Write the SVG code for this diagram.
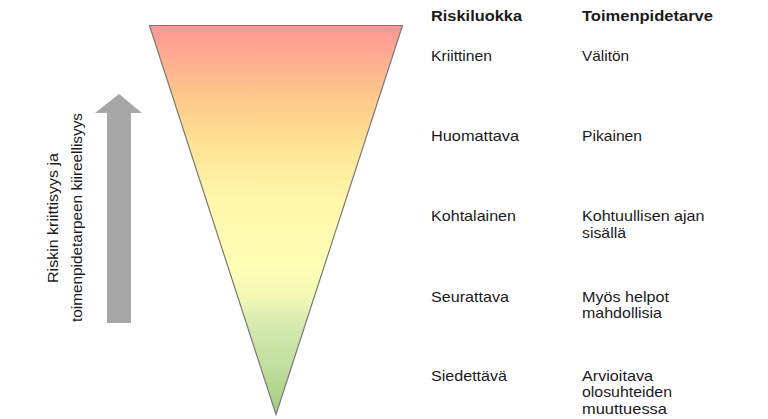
<svg xmlns="http://www.w3.org/2000/svg" width="768" height="419" viewBox="0 0 768 419">
  <defs>
    <linearGradient id="riskGrad" x1="0" y1="0" x2="0" y2="1">
      <stop offset="0" stop-color="#FF9696"/>
      <stop offset="0.19" stop-color="#FFC98A"/>
      <stop offset="0.3" stop-color="#FFE294"/>
      <stop offset="0.45" stop-color="#FFF7AA"/>
      <stop offset="0.62" stop-color="#FFFFB6"/>
      <stop offset="0.7" stop-color="#F2F8B4"/>
      <stop offset="0.76" stop-color="#D8EBB2"/>
      <stop offset="0.88" stop-color="#C0DF9E"/>
      <stop offset="1" stop-color="#9ECC7C"/>
    </linearGradient>
  </defs>
  <style>
    text { font-family: "Liberation Sans", Arial, sans-serif; fill: #1a1a1a; font-size: 14.5px; }
    .hdr { font-weight: bold; }
    .rot { font-size: 15.5px; }
  </style>
  <rect width="768" height="419" fill="#ffffff"/>
  <g id="triangle">
    <polygon points="149.5,25.5 402.5,25.5 276,414.5" fill="url(#riskGrad)" stroke="#7a7a7a" stroke-width="1.2"/>
  </g>
  <g id="arrow">
    <polygon points="119,94 142,113 131,113 131,323 107,323 107,113 95,113" fill="#a6a6a6"/>
  </g>
  <g id="axis-label">
    <text class="rot" transform="translate(58,218) rotate(-90)" text-anchor="middle" textLength="130" lengthAdjust="spacingAndGlyphs">Riskin kriittisyys ja</text>
    <text class="rot" transform="translate(81.5,217.5) rotate(-90)" text-anchor="middle" textLength="209" lengthAdjust="spacingAndGlyphs">toimenpidetarpeen kiireellisyys</text>
  </g>
  <g id="headers">
    <text class="hdr" x="431" y="20.5" textLength="91" lengthAdjust="spacingAndGlyphs">Riskiluokka</text>
    <text class="hdr" x="582" y="20.5" textLength="131" lengthAdjust="spacingAndGlyphs">Toimenpidetarve</text>
  </g>
  <g id="row-kriittinen">
    <text x="431" y="61" textLength="61" lengthAdjust="spacingAndGlyphs">Kriittinen</text>
    <text x="582" y="61" textLength="47" lengthAdjust="spacingAndGlyphs">Välitön</text>
  </g>
  <g id="row-huomattava">
    <text x="431" y="140.5" textLength="88" lengthAdjust="spacingAndGlyphs">Huomattava</text>
    <text x="582" y="140.5" textLength="60" lengthAdjust="spacingAndGlyphs">Pikainen</text>
  </g>
  <g id="row-kohtalainen">
    <text x="431" y="221" textLength="85" lengthAdjust="spacingAndGlyphs">Kohtalainen</text>
    <text x="582" y="221" textLength="122.5" lengthAdjust="spacingAndGlyphs">Kohtuullisen ajan</text>
    <text x="582" y="237.5" textLength="44" lengthAdjust="spacingAndGlyphs">sisällä</text>
  </g>
  <g id="row-seurattava">
    <text x="431" y="301.5" textLength="78" lengthAdjust="spacingAndGlyphs">Seurattava</text>
    <text x="582" y="301.5" textLength="87" lengthAdjust="spacingAndGlyphs">Myös helpot</text>
    <text x="582" y="317.5" textLength="80" lengthAdjust="spacingAndGlyphs">mahdollisia</text>
  </g>
  <g id="row-siedettava">
    <text x="431" y="380.5" textLength="76" lengthAdjust="spacingAndGlyphs">Siedettävä</text>
    <text x="582" y="380.5" textLength="71" lengthAdjust="spacingAndGlyphs">Arvioitava</text>
    <text x="582" y="397" textLength="90" lengthAdjust="spacingAndGlyphs">olosuhteiden</text>
    <text x="582" y="413.5" textLength="85" lengthAdjust="spacingAndGlyphs">muuttuessa</text>
  </g>
</svg>
